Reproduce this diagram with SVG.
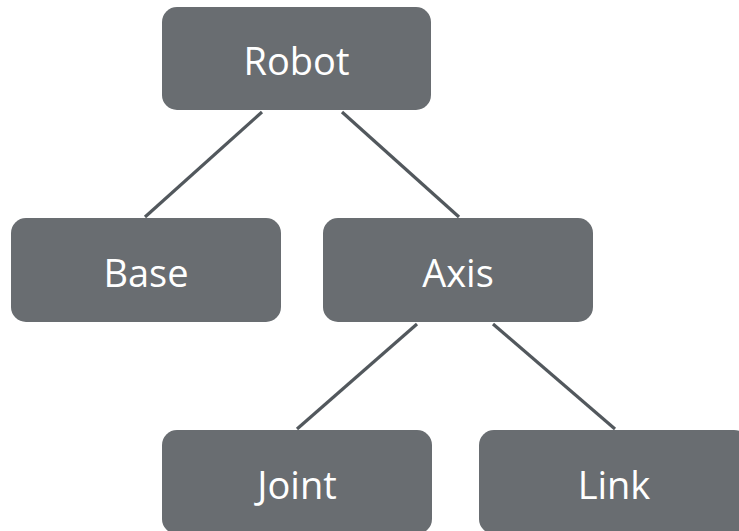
<svg xmlns="http://www.w3.org/2000/svg" width="739" height="531" viewBox="0 0 739 531">
  <style>
    .box { fill: #696d71; }
    .label { fill: #ffffff; font-family: "Open Sans", "Liberation Sans", sans-serif; font-size: 38px; text-anchor: middle; }
    .edge { stroke: #52585d; stroke-width: 3.2; fill: none; }
  </style>
  <rect width="739" height="531" fill="#ffffff"/>
  <!-- tree edges -->
  <g id="connectors">
    <line class="edge" x1="262" y1="112" x2="145" y2="217"/>
    <line class="edge" x1="342" y1="112" x2="459" y2="217"/>
    <line class="edge" x1="417" y1="324" x2="297" y2="429"/>
    <line class="edge" x1="493" y1="324" x2="615" y2="429"/>
  </g>
  <g id="robot">
    <rect class="box" x="162" y="7" width="269" height="103" rx="15"/>
    <text class="label" x="296.5" y="75">Robot</text>
  </g>
  <g id="base">
    <rect class="box" x="11" y="218" width="270" height="104" rx="15"/>
    <text class="label" x="146" y="287">Base</text>
  </g>
  <g id="axis">
    <rect class="box" x="323" y="218" width="270" height="104" rx="15"/>
    <text class="label" x="458" y="287">Axis</text>
  </g>
  <g id="joint">
    <rect class="box" x="162" y="430" width="270" height="104" rx="15"/>
    <text class="label" x="297" y="499">Joint</text>
  </g>
  <g id="link">
    <rect class="box" x="479" y="430" width="270" height="104" rx="15"/>
    <text class="label" x="614" y="499">Link</text>
  </g>
</svg>
